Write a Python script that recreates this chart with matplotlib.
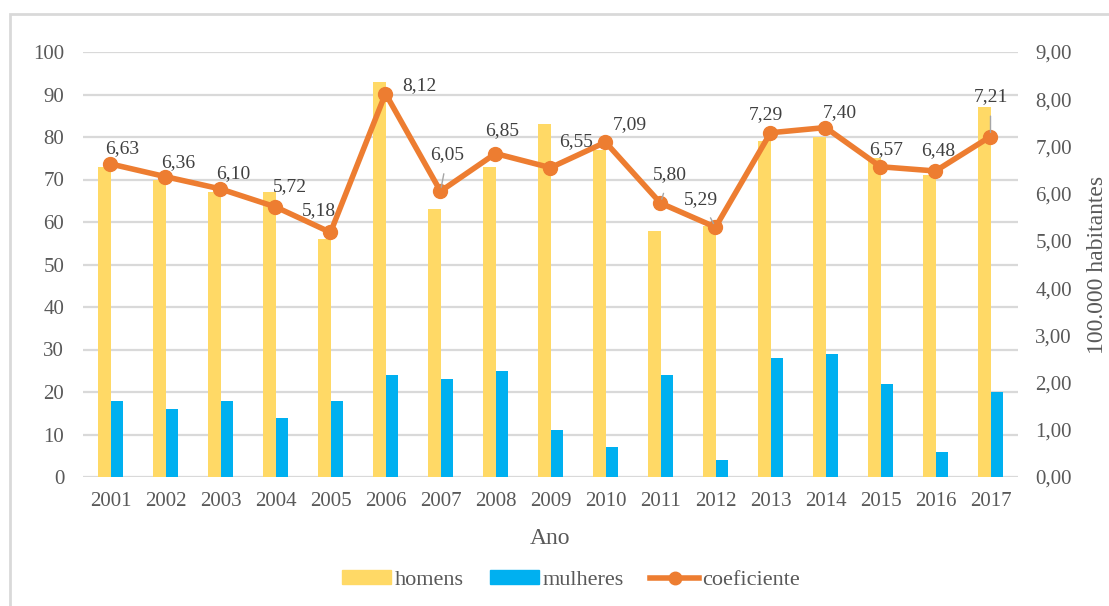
import matplotlib.pyplot as plt
import matplotlib.patches as patches
from matplotlib.lines import Line2D
from matplotlib.ticker import FuncFormatter
import numpy as np

plt.rcParams['font.family'] = ['Liberation Serif', 'DejaVu Serif']

anos = ['2001', '2002', '2003', '2004', '2005', '2006', '2007', '2008', '2009',
        '2010', '2011', '2012', '2013', '2014', '2015', '2016', '2017']
homens = [73, 70, 67, 67, 56, 93, 63, 73, 83, 77, 58, 59, 79, 80, 75, 71, 87]
mulheres = [18, 16, 18, 14, 18, 24, 23, 25, 11, 7, 24, 4, 28, 29, 22, 6, 20]
coeficiente = [6.63, 6.36, 6.10, 5.72, 5.18, 8.12, 6.05, 6.85, 6.55, 7.09,
               5.80, 5.29, 7.29, 7.40, 6.57, 6.48, 7.21]

# label offsets in pixels (dx, dy) relative to each point, and whether a leader line is drawn
label_off = [(12, 15), (13, 14), (13, 15), (14, 20), (-12, 22), (34, 8), (7, 37),
             (7, 23), (26, 26), (24, 18), (9, 29), (-15, 28), (-5, 18), (14, 15),
             (6, 17), (3, 20), (0, 40)]
leader = [False, False, False, False, False, False, True, False, False, False,
          True, True, False, False, False, False, True]

yellow = '#FFD966'
blue = '#00B0F0'
orange = '#ED7D31'
txt = '#595959'
grid = '#D9D9D9'

fig = plt.figure(figsize=(11.09, 6.06), dpi=100)
W, H = 1109, 606
ax = fig.add_axes([83 / W, 1 - 477 / H, (1018 - 83) / W, (477 - 52) / H])
ax2 = ax.twinx()

x = np.arange(len(anos))
bw = 0.23
ax.bar(x - bw / 2, homens, bw, color=yellow, zorder=2)
ax.bar(x + bw / 2, mulheres, bw, color=blue, zorder=2)

ax.set_xlim(-0.5, len(anos) - 0.5)
ax.set_ylim(0, 100)
ax.set_yticks(range(0, 101, 10))
ax.yaxis.grid(True, color=grid, linewidth=1.6, zorder=0)
ax.set_axisbelow(True)
ax.set_xticks(x)
ax.set_xticklabels(anos)
ax.tick_params(axis='both', length=0, colors=txt, labelsize=15)
ax.tick_params(axis='y', pad=13.5)
ax.tick_params(axis='x', pad=11)
for s in ax.spines.values():
    s.set_visible(False)
ax.set_xlabel('Ano', fontsize=17, color=txt, labelpad=12)

ax2.plot(x, coeficiente, color=orange, linewidth=4, marker='o', markersize=10,
         zorder=5, solid_capstyle='round')
ax2.set_ylim(0, 9)
ax2.set_yticks(range(0, 10))
ax2.yaxis.set_major_formatter(FuncFormatter(lambda v, p: f'{v:.2f}'.replace('.', ',')))
ax2.tick_params(axis='y', length=0, colors=txt, labelsize=15, pad=12.5)
for s in ax2.spines.values():
    s.set_visible(False)
ax2.set_ylabel('100.000 habitantes', fontsize=17, color=txt, labelpad=11)

for i, v in enumerate(coeficiente):
    dx, dy = label_off[i]
    props = None
    if leader[i]:
        props = dict(arrowstyle='-', color='#A6A6A6', lw=1, shrinkA=6, shrinkB=3)
    ax2.annotate(f'{v:.2f}'.replace('.', ','), (x[i], v), xytext=(dx, dy),
                 textcoords='offset pixels', ha='center', va='center',
                 fontsize=14, color='#404040', arrowprops=props, zorder=6)

handles = [patches.Patch(color=yellow, label='homens'),
           patches.Patch(color=blue, label='mulheres'),
           Line2D([0], [0], color=orange, linewidth=4, marker='o', markersize=9,
                  label='coeficiente')]
leg = fig.legend(handles=handles, loc='center', bbox_to_anchor=(0.515, 1 - 580 / H),
                 ncol=3, frameon=False, fontsize=16, handlelength=2.2,
                 handleheight=0.55, columnspacing=1.2, handletextpad=0.15)
for t in leg.get_texts():
    t.set_color(txt)

fig.patches.append(patches.Rectangle((10 / W, -0.05), 1.05, 1 - 14 / H + 0.05,
                                     transform=fig.transFigure, fill=False,
                                     edgecolor='#D9D9D9', linewidth=2))

fig.savefig('out.png', dpi=100)
